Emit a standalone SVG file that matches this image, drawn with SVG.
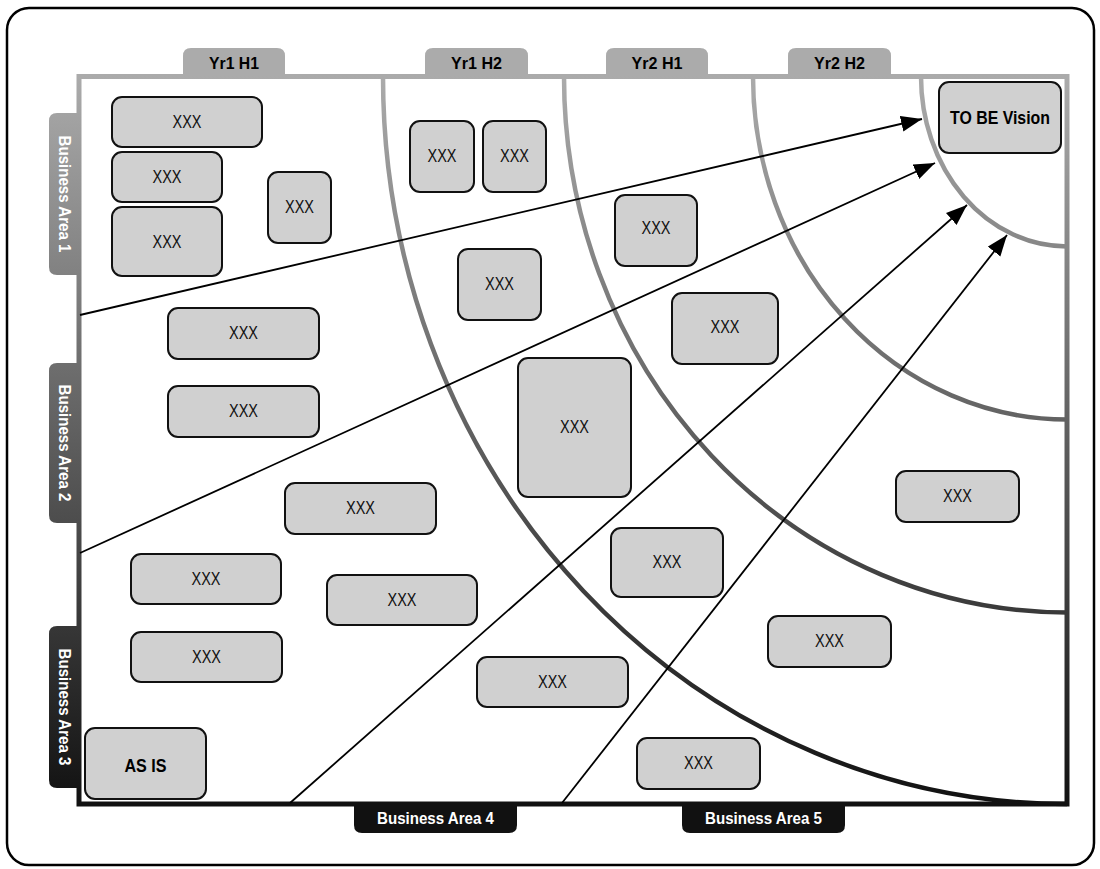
<svg xmlns="http://www.w3.org/2000/svg" width="1100" height="869" viewBox="0 0 1100 869">
  <defs>
    <!-- shared vertical shade: light grey at the top of the grid, near black at the bottom -->
    <linearGradient id="shade" gradientUnits="userSpaceOnUse" x1="0" y1="76" x2="0" y2="804">
      <stop offset="0" stop-color="#ababab"/>
      <stop offset="1" stop-color="#111111"/>
    </linearGradient>
    <marker id="arrow" markerUnits="userSpaceOnUse" markerWidth="24" markerHeight="18" refX="21" refY="8" orient="auto">
      <path d="M0,0 L21,8 L0,16 z" fill="#000"/>
    </marker>
    <style>
      .box { fill: #d0d0d0; stroke: #111; stroke-width: 2; }
      .lbl { font-family: "Liberation Sans", Arial, sans-serif; font-size: 18px; fill: #111; text-anchor: middle; dominant-baseline: central; }
      .big { font-family: "Liberation Sans", Arial, sans-serif; font-size: 19px; font-weight: bold; fill: #000; text-anchor: middle; dominant-baseline: central; }
      .tab { fill: url(#shade); }
      .tabtxt { font-family: "Liberation Sans", Arial, sans-serif; font-size: 17px; font-weight: bold; text-anchor: middle; dominant-baseline: central; }
      .ring { fill: none; stroke: url(#shade); stroke-width: 4.5; }
      .conn { fill: none; stroke: #000; stroke-width: 1.8; marker-end: url(#arrow); }
    </style>
  </defs>

  <rect width="1100" height="869" fill="#fff"/>
  <!-- outer border -->
  <rect x="7" y="8" width="1087" height="857" rx="22" ry="22" fill="#fff" stroke="#000" stroke-width="2.5"/>

  <!-- column tabs -->
  <g id="tab-yr1h1"><path class="tab" d="M183,78 V56 Q183,48 191,48 H277 Q285,48 285,56 V78 z"/><text class="tabtxt" x="234" y="63" fill="#000" textLength="50" lengthAdjust="spacingAndGlyphs">Yr1 H1</text></g>
  <g id="tab-yr1h2"><path class="tab" d="M425,78 V56 Q425,48 433,48 H520 Q528,48 528,56 V78 z"/><text class="tabtxt" x="476.5" y="63" fill="#000" textLength="51" lengthAdjust="spacingAndGlyphs">Yr1 H2</text></g>
  <g id="tab-yr2h1"><path class="tab" d="M606,78 V56 Q606,48 614,48 H700 Q708,48 708,56 V78 z"/><text class="tabtxt" x="657" y="63" fill="#000" textLength="51" lengthAdjust="spacingAndGlyphs">Yr2 H1</text></g>
  <g id="tab-yr2h2"><path class="tab" d="M788,78 V56 Q788,48 796,48 H883 Q891,48 891,56 V78 z"/><text class="tabtxt" x="839.5" y="63" fill="#000" textLength="51" lengthAdjust="spacingAndGlyphs">Yr2 H2</text></g>

  <!-- row tabs -->
  <g id="tab-ba1"><path class="tab" d="M81,113 H57 Q49,113 49,121 V267 Q49,275 57,275 H81 z"/><text class="tabtxt" transform="translate(64,194) rotate(90)" x="0" y="0" fill="#fff" textLength="117" lengthAdjust="spacingAndGlyphs">Business Area 1</text></g>
  <g id="tab-ba2"><path class="tab" d="M81,363 H57 Q49,363 49,371 V515 Q49,523 57,523 H81 z"/><text class="tabtxt" transform="translate(64,443) rotate(90)" x="0" y="0" fill="#fff" textLength="117" lengthAdjust="spacingAndGlyphs">Business Area 2</text></g>
  <g id="tab-ba3"><path class="tab" d="M81,626 H57 Q49,626 49,634 V780 Q49,788 57,788 H81 z"/><text class="tabtxt" transform="translate(64,707) rotate(90)" x="0" y="0" fill="#fff" textLength="117" lengthAdjust="spacingAndGlyphs">Business Area 3</text></g>

  <!-- bottom tabs -->
  <g id="tab-ba4"><path d="M354,802 V825 Q354,833 362,833 H509 Q517,833 517,825 V802 z" fill="#111"/><text class="tabtxt" x="435.5" y="818" fill="#fff" textLength="117" lengthAdjust="spacingAndGlyphs">Business Area 4</text></g>
  <g id="tab-ba5"><path d="M682,802 V825 Q682,833 690,833 H837 Q845,833 845,825 V802 z" fill="#111"/><text class="tabtxt" x="763.5" y="818" fill="#fff" textLength="117" lengthAdjust="spacingAndGlyphs">Business Area 5</text></g>

  <!-- grid frame -->
  <rect id="frame" x="79" y="76.5" width="988" height="727.5" fill="#fff" stroke="url(#shade)" stroke-width="5"/>

  <!-- time horizon rings around the target corner -->
  <g id="rings">
    <path class="ring" d="M921,76.5 A146,170 0 0 0 1067,246.5"/>
    <path class="ring" d="M753,76.5 A314,343 0 0 0 1067,419.5"/>
    <path class="ring" d="M564,76.5 A503,536 0 0 0 1067,612.5"/>
    <path class="ring" d="M383,76.5 A684,727.5 0 0 0 1067,804"/>
  </g>

  <!-- connectors -->
  <g id="connectors">
    <line class="conn" x1="80" y1="315" x2="922" y2="119"/>
    <line class="conn" x1="80" y1="553" x2="935" y2="163"/>
    <line class="conn" x1="290" y1="803" x2="967" y2="205"/>
    <line class="conn" x1="562" y1="803" x2="1007" y2="235"/>
  </g>

  <!-- items -->
  <g id="n1"><rect class="box" x="112" y="97" width="150" height="50" rx="10"/><text class="lbl" x="187" y="122" textLength="29" lengthAdjust="spacingAndGlyphs">XXX</text></g>
  <g id="n2"><rect class="box" x="112" y="152" width="110" height="50" rx="10"/><text class="lbl" x="167" y="177" textLength="29" lengthAdjust="spacingAndGlyphs">XXX</text></g>
  <g id="n3"><rect class="box" x="112" y="207" width="110" height="69" rx="10"/><text class="lbl" x="167" y="242" textLength="29" lengthAdjust="spacingAndGlyphs">XXX</text></g>
  <g id="n4"><rect class="box" x="268" y="172" width="63" height="71" rx="10"/><text class="lbl" x="299.5" y="207" textLength="29" lengthAdjust="spacingAndGlyphs">XXX</text></g>
  <g id="n5"><rect class="box" x="410" y="121" width="64" height="71" rx="10"/><text class="lbl" x="442" y="156" textLength="29" lengthAdjust="spacingAndGlyphs">XXX</text></g>
  <g id="n6"><rect class="box" x="483" y="121" width="63" height="71" rx="10"/><text class="lbl" x="514.5" y="156" textLength="29" lengthAdjust="spacingAndGlyphs">XXX</text></g>
  <g id="n7"><rect class="box" x="458" y="249" width="83" height="71" rx="10"/><text class="lbl" x="499.5" y="284" textLength="29" lengthAdjust="spacingAndGlyphs">XXX</text></g>
  <g id="n8"><rect class="box" x="615" y="195" width="82" height="71" rx="10"/><text class="lbl" x="656" y="228" textLength="29" lengthAdjust="spacingAndGlyphs">XXX</text></g>
  <g id="n9"><rect class="box" x="672" y="293" width="106" height="71" rx="10"/><text class="lbl" x="725" y="327" textLength="29" lengthAdjust="spacingAndGlyphs">XXX</text></g>
  <g id="n10"><rect class="box" x="518" y="358" width="113" height="139" rx="10"/><text class="lbl" x="574.5" y="427" textLength="29" lengthAdjust="spacingAndGlyphs">XXX</text></g>
  <g id="n11"><rect class="box" x="168" y="308" width="151" height="51" rx="10"/><text class="lbl" x="243.5" y="333" textLength="29" lengthAdjust="spacingAndGlyphs">XXX</text></g>
  <g id="n12"><rect class="box" x="168" y="386" width="151" height="51" rx="10"/><text class="lbl" x="243.5" y="411" textLength="29" lengthAdjust="spacingAndGlyphs">XXX</text></g>
  <g id="n13"><rect class="box" x="285" y="483" width="151" height="51" rx="10"/><text class="lbl" x="360.5" y="508" textLength="29" lengthAdjust="spacingAndGlyphs">XXX</text></g>
  <g id="n14"><rect class="box" x="131" y="554" width="150" height="50" rx="10"/><text class="lbl" x="206" y="579" textLength="29" lengthAdjust="spacingAndGlyphs">XXX</text></g>
  <g id="n15"><rect class="box" x="327" y="575" width="150" height="50" rx="10"/><text class="lbl" x="402" y="600" textLength="29" lengthAdjust="spacingAndGlyphs">XXX</text></g>
  <g id="n16"><rect class="box" x="131" y="632" width="151" height="50" rx="10"/><text class="lbl" x="206.5" y="657" textLength="29" lengthAdjust="spacingAndGlyphs">XXX</text></g>
  <g id="n17"><rect class="box" x="477" y="657" width="151" height="50" rx="10"/><text class="lbl" x="552.5" y="682" textLength="29" lengthAdjust="spacingAndGlyphs">XXX</text></g>
  <g id="n18"><rect class="box" x="611" y="528" width="112" height="69" rx="10"/><text class="lbl" x="667" y="562" textLength="29" lengthAdjust="spacingAndGlyphs">XXX</text></g>
  <g id="n19"><rect class="box" x="768" y="616" width="123" height="51" rx="10"/><text class="lbl" x="829.5" y="641" textLength="29" lengthAdjust="spacingAndGlyphs">XXX</text></g>
  <g id="n20"><rect class="box" x="637" y="738" width="123" height="51" rx="10"/><text class="lbl" x="698.5" y="763" textLength="29" lengthAdjust="spacingAndGlyphs">XXX</text></g>
  <g id="n21"><rect class="box" x="896" y="471" width="123" height="51" rx="10"/><text class="lbl" x="957.5" y="496" textLength="29" lengthAdjust="spacingAndGlyphs">XXX</text></g>
  <g id="as-is"><rect class="box" x="85" y="728" width="121" height="71" rx="10"/><text class="big" x="145.5" y="765" textLength="42" lengthAdjust="spacingAndGlyphs">AS IS</text></g>
  <g id="to-be"><rect class="box" x="939" y="82" width="122" height="71" rx="10"/><text class="big" x="1000" y="117" textLength="100" lengthAdjust="spacingAndGlyphs">TO BE Vision</text></g>
</svg>
